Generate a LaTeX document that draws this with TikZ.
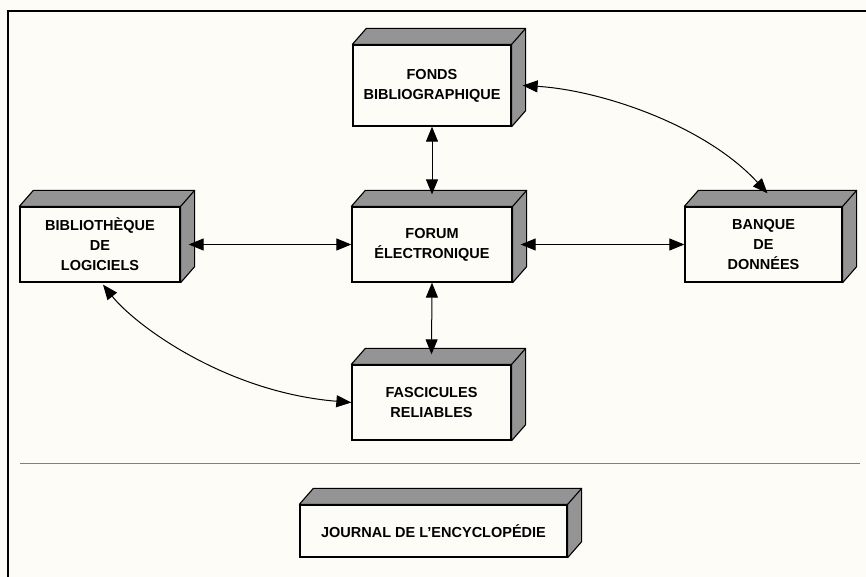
\documentclass[tikz,border=0pt]{standalone}
\usepackage{fontspec}
\setmainfont{Liberation Sans}
\usetikzlibrary{arrows.meta,calc}
\definecolor{paper}{RGB}{253,252,246}
\begin{document}
\begin{tikzpicture}[x=1pt,y=-1pt,
  box/.style={draw=black,line width=1.3pt,fill=paper,rectangle,align=center,
    font=\bfseries\fontsize{14.5}{20}\selectfont,inner sep=0pt},
  shade3d/.style={fill=black!42,draw=black,line width=1.1pt,line join=round},
  link/.style={line width=1pt,{Triangle[length=15pt,width=12pt]}-{Triangle[length=15pt,width=12pt]}}]
\useasboundingbox (0,0) rectangle (866,577);
\fill[paper] (0,0) rectangle (866,577);
\draw[line width=2.5pt] (8,577) -- (8,11) -- (866,11);
\draw[gray,line width=1pt] (20,463) -- (860,463);

\node[box,minimum width=158pt,minimum height=81pt] (fonds) at (432,85.5) {FONDS\\BIBLIOGRAPHIQUE};
\node[box,minimum width=160pt,minimum height=75pt] (biblio) at (100,244.5) {BIBLIOTHÈQUE\\DE\\LOGICIELS};
\node[box,minimum width=160pt,minimum height=75pt] (forum) at (432,244.5) {FORUM\\ÉLECTRONIQUE};
\node[box,minimum width=157pt,minimum height=75pt] (banque) at (763.5,244.5) {BANQUE\\DE\\DONNÉES};
\node[box,minimum width=159pt,minimum height=75pt] (fasc) at (431.5,402.5) {FASCICULES\\RELIABLES};
\node[box,minimum width=267pt,minimum height=52pt] (journal) at (433.5,531) {JOURNAL DE L'ENCYCLOPÉDIE};

\foreach \n in {fonds,biblio,forum,banque,fasc,journal}{
  \filldraw[shade3d] (\n.north west) -- ++(14,-16) -- ($(\n.north east)+(14,-16)$)
    -- ($(\n.south east)+(14,-16)$) -- (\n.south east) -- (\n.north east) -- cycle;
  \draw[line width=1.1pt] (\n.north east) -- ++(14,-16);
}

\draw[link] (fonds.south) -- ($(forum.north)+(0,-12)$);
\draw[link] (forum.south) -- ($(fasc.north)+(0,-10)$);
\draw[link] ($(biblio.east)+(8,0)$) -- (forum.west);
\draw[link] ($(forum.east)+(8,0)$) -- (banque.west);
\draw[link] ($(fonds.east)+(11,0)$) .. controls (600,90) and (705,125) .. ($(banque.north)+(4,-13)$);
\draw[link] ($(biblio.south)+(3,2)$) .. controls (135,325) and (225,392) .. (fasc.west);
\end{tikzpicture}
\end{document}
